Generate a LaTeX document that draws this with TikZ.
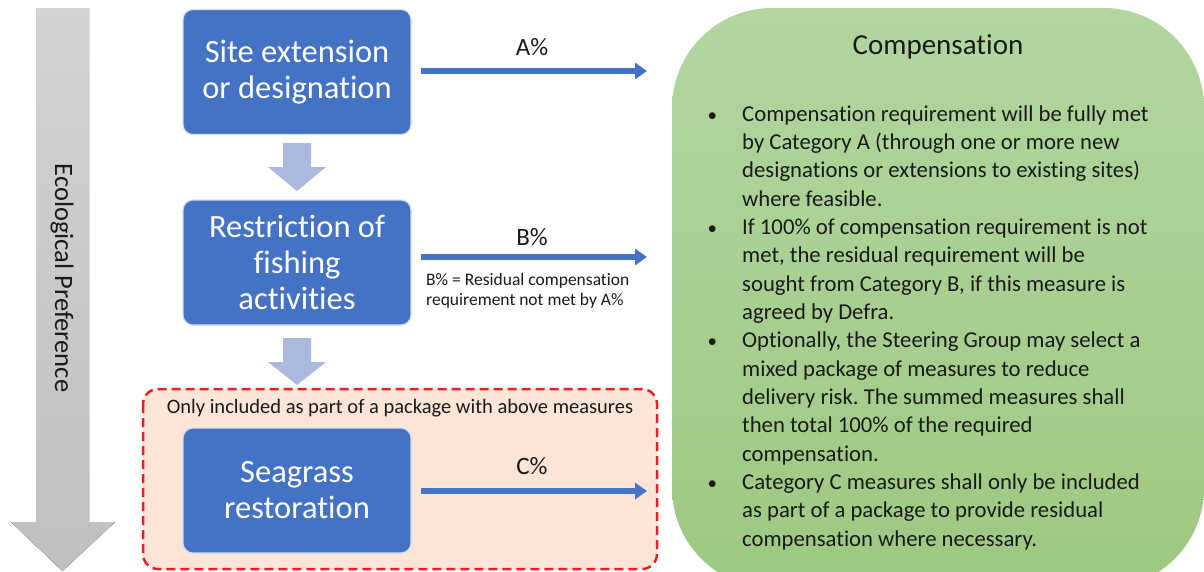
\documentclass[tikz,border=0pt]{standalone}
\usepackage{fontspec}
\setmainfont{Carlito}[Ligatures=NoCommon]
\usetikzlibrary{arrows.meta}
\definecolor{boxblue}{HTML}{4472C4}
\definecolor{downarr}{HTML}{AAB9DD}
\definecolor{peach}{HTML}{FBE5D6}
\definecolor{dashred}{HTML}{F01E23}
\definecolor{greentop}{HTML}{B3D6A0}
\definecolor{greenbot}{HTML}{9DC881}
\definecolor{graytop}{HTML}{D3D3D3}
\definecolor{graybot}{HTML}{BFBFBF}
\definecolor{txt}{HTML}{1A1A1A}
\newcommand{\bul}{\llap{{\fontsize{19}{19}\selectfont\textbullet}\hspace{25pt}}}
\frenchspacing
\begin{document}
\begin{tikzpicture}[x=1pt,y=-1pt,
  bluebox/.style={rectangle, rounded corners=10pt, fill=boxblue, draw=white!75!boxblue,
    line width=1.2pt, text=white, align=center, inner sep=0pt,
    minimum width=228pt, minimum height=125pt,
    font=\fontsize{32.5}{36}\selectfont},
  flowarrow/.style={draw=boxblue, line width=5.5pt, shorten <=9pt,
    -{Triangle[length=12pt,width=16pt]}},
  pct/.style={font=\fontsize{25}{28}\selectfont, text=txt, inner sep=0pt},
  downblock/.style={fill=downarr},
]
\useasboundingbox (0,0) rectangle (1204,571);

% ecological preference arrow
\fill[top color=graytop, bottom color=graybot]
  (36,8) -- (89,8) -- (89,522) -- (115,522) -- (62.5,571) -- (11,522) -- (36,522) -- cycle;
\node[rotate=-90, font=\fontsize{26.5}{30}\selectfont, text=txt, inner sep=0pt] (ep) at (62,278) {Ecological Preference};

% green compensation panel
\path[top color=greentop, bottom color=greenbot, rounded corners=100pt]
  (672,8) rectangle (1204,588);
\node[font=\fontsize{29}{32}\selectfont, text=txt, inner sep=0pt] (ct) at (938,47) {Compensation};
\node[anchor=north west, align=left, inner sep=0pt, text=txt,
      font=\fontsize{22.7}{28.33}\selectfont] (cl) at (742,101) {%
\rule{0pt}{20pt}\bul Compensation requirement will be fully met\\
by Category A (through one or more new\\
designations or extensions to existing sites)\\
where feasible.\\
\bul If 100\% of compensation requirement is not\\
met, the residual requirement will be\\
sought from Category B, if this measure is\\
agreed by Defra.\\
\bul Optionally, the Steering Group may select a\\
mixed package of measures to reduce\\
delivery risk. The summed measures shall\\
then total 100\% of the required\\
compensation.\\
\bul Category C measures shall only be included\\
as part of a package to provide residual\\
compensation where necessary.};

% dashed package region
\draw[fill=peach, draw=dashred, line width=2.5pt, dash pattern=on 9pt off 5pt, rounded corners=15pt]
  (143,389) rectangle (657,569);
\node[font=\fontsize{20.5}{24}\selectfont, text=txt, inner sep=0pt] (pk) at (400,408)
  {Only included as part of a package with above measures};

% blue boxes
\node[bluebox] (b1) at (297,72) {Site extension\\or designation};
\node[bluebox] (b2) at (297,262.5) {Restriction of\\fishing\\activities};
\node[bluebox] (b3) at (297,490.5) {Seagrass\\restoration};

% down block arrows
\fill[downblock] (283,143) -- (311,143) -- (311,167) -- (326,167) -- (297,191) -- (268,167) -- (283,167) -- cycle;
\fill[downblock] (283,338) -- (311,338) -- (311,362) -- (326,362) -- (297,385) -- (268,362) -- (283,362) -- cycle;

% flow arrows
\coordinate (ae) at (647,71);
\coordinate (be) at (647,257);
\coordinate (ce) at (647,491);
\draw[flowarrow] ([yshift=1pt]b1.east) -- (ae);
\draw[flowarrow] ([yshift=5.5pt]b2.east) -- (be);
\draw[flowarrow] ([yshift=-0.5pt]b3.east) -- (ce);

\node[pct] (la) at (532,47) {A\%};
\node[pct] (lb) at (532,237) {B\%};
\node[pct] (lc) at (532,466) {C\%};
\node[anchor=north west, align=left, inner sep=0pt, text=txt,
      font=\fontsize{17.5}{20.5}\selectfont] (bn) at (426,271)
  {\rule{0pt}{14pt}B\% = Residual compensation\\requirement not met by A\%};
\end{tikzpicture}
\end{document}
